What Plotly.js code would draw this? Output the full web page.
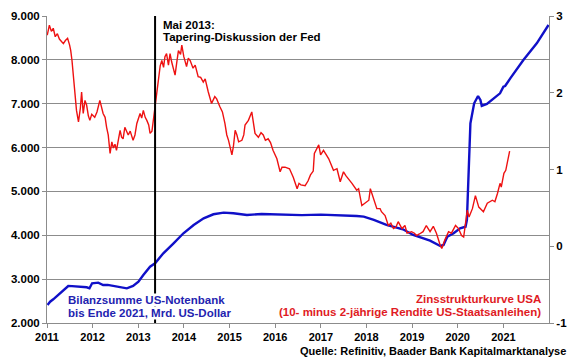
<!DOCTYPE html>
<html>
<head>
<meta charset="utf-8">
<script src="https://cdn.plot.ly/plotly-3.0.1.min.js"></script>
<style>
html,body{margin:0;padding:0;background:#fff;}
#chart{width:580px;height:359px;}
</style>
</head>
<body>
<div id="chart"></div>
<script>
// ---- Data ----
// Bilanzsumme US-Notenbank (Mrd. US-Dollar), left axis
const balanceDates = [
"2011-01-05","2011-01-26","2011-02-20","2011-03-15","2011-04-13","2011-05-15","2011-06-20","2011-07-20","2011-08-25","2011-10-01","2011-11-15","2011-12-07","2011-12-28",
"2012-02-15","2012-03-25","2012-05-01","2012-06-15","2012-08-10","2012-10-01","2012-11-20",
"2013-01-02","2013-02-10","2013-04-05","2013-05-15","2013-07-20","2013-10-10","2013-12-28",
"2014-03-20","2014-06-08","2014-08-25","2014-11-15",
"2015-02-01","2015-05-20","2015-09-15","2015-12-20",
"2016-02-10","2016-08-01","2017-01-01","2017-05-10","2017-10-15","2017-12-10",
"2018-03-01","2018-06-10","2018-10-20","2019-01-10","2019-05-25","2019-08-15","2019-09-10","2019-10-10","2019-11-30",
"2020-01-20","2020-03-04","2020-03-15","2020-03-25","2020-04-01","2020-04-12","2020-05-12","2020-06-12","2020-07-01","2020-07-12","2020-08-22","2020-10-15","2020-12-05",
"2021-01-01","2021-01-15","2021-02-25","2021-04-15","2021-06-10","2021-09-25","2021-12-28"
];
const balanceValues = [
2411,2486,2540,2600,2677,2760,2844,2840,2829,2835,2814,2791,2906,
2920,2867,2870,2844,2814,2791,2844,
2943,3095,3284,3362,3590,3818,4046,
4235,4388,4479,4516,
4502,4463,4486,4479,
4463,4460,4470,4463,4440,4425,
4350,4235,4137,4007,3877,3756,3779,3968,4046,
4160,4196,4349,5030,5870,6553,7010,7176,7085,6948,6994,7124,7237,
7389,7404,7579,7769,7997,8377,8795
];

// Zinsstrukturkurve USA (10- minus 2-jährige Rendite, %), right axis
const spreadDates = [
"2011-01-03","2011-01-20","2011-02-05","2011-02-20","2011-03-08","2011-03-25","2011-04-10","2011-04-27","2011-05-12","2011-05-28","2011-06-15","2011-07-01","2011-07-10","2011-07-20","2011-08-05","2011-08-10","2011-08-25","2011-09-10","2011-09-25","2011-10-05","2011-10-18","2011-11-01","2011-11-14","2011-11-28","2011-12-10","2011-12-25",
"2012-01-18","2012-02-05","2012-02-28","2012-03-25","2012-04-10","2012-04-22","2012-05-05","2012-05-20","2012-06-03","2012-06-15","2012-06-28","2012-07-10","2012-07-25","2012-08-08","2012-08-20","2012-09-01","2012-09-15","2012-10-12","2012-10-28","2012-11-20","2012-12-05","2012-12-20",
"2013-01-15","2013-01-28","2013-02-10","2013-02-25","2013-03-10","2013-03-25","2013-04-05","2013-04-20","2013-04-28","2013-05-15","2013-05-22","2013-06-10","2013-06-25","2013-07-08","2013-07-22","2013-08-02","2013-08-15","2013-08-30","2013-09-12","2013-09-25","2013-10-10","2013-10-22","2013-11-05","2013-11-18","2013-12-05","2013-12-15","2013-12-31",
"2014-01-22","2014-02-05","2014-02-20","2014-03-15","2014-04-01","2014-04-25","2014-05-15","2014-06-05","2014-06-20","2014-07-15","2014-08-10","2014-09-05","2014-09-20","2014-10-15","2014-11-05","2014-11-25","2014-12-10","2014-12-24",
"2015-01-20","2015-02-01","2015-02-15","2015-03-01","2015-03-15","2015-04-10","2015-04-25","2015-05-05","2015-06-01","2015-06-28","2015-07-10","2015-07-24","2015-08-20","2015-09-10","2015-09-28","2015-10-15","2015-11-06","2015-11-25","2015-12-15","2015-12-28",
"2016-01-15","2016-02-10","2016-02-25","2016-03-20","2016-04-10","2016-04-25","2016-05-25","2016-06-25","2016-07-10","2016-07-25","2016-08-28","2016-09-20","2016-10-10","2016-11-01","2016-11-10","2016-12-01","2016-12-15","2016-12-30",
"2017-01-22","2017-02-10","2017-03-05","2017-04-12","2017-05-10","2017-06-05","2017-07-01","2017-07-20","2017-08-10","2017-09-07","2017-10-15","2017-10-30","2017-11-25","2017-12-20",
"2018-01-20","2018-02-01","2018-02-15","2018-03-01","2018-03-25","2018-04-20","2018-05-01","2018-05-30","2018-06-25","2018-07-15","2018-08-05","2018-08-25","2018-09-12","2018-10-12","2018-11-05","2018-11-22","2018-12-28",
"2019-01-20","2019-02-05","2019-03-01","2019-03-30","2019-04-25","2019-05-25","2019-06-20","2019-07-15","2019-08-15","2019-08-27","2019-09-20","2019-10-20","2019-11-12","2019-12-15",
"2020-01-08","2020-02-01","2020-02-18","2020-03-18","2020-04-01","2020-04-28","2020-05-22","2020-06-18","2020-07-25","2020-08-25","2020-10-05","2020-10-25","2020-11-15","2020-12-05","2020-12-15",
"2021-01-05","2021-01-20","2021-02-03","2021-02-20"
];
const spreadValues = [
2.75,2.88,2.80,2.84,2.73,2.77,2.70,2.66,2.64,2.68,2.71,2.62,2.55,2.42,2.10,1.99,1.77,1.62,1.80,2.01,1.73,1.90,1.84,1.70,1.64,1.72,
1.68,1.75,1.90,1.73,1.68,1.55,1.45,1.21,1.36,1.28,1.33,1.25,1.40,1.51,1.42,1.40,1.55,1.45,1.50,1.38,1.45,1.60,
1.73,1.67,1.77,1.68,1.64,1.58,1.47,1.50,1.60,1.82,1.90,2.16,2.35,2.42,2.33,2.47,2.51,2.36,2.51,2.40,2.30,2.23,2.40,2.55,2.50,2.62,2.47,
2.34,2.45,2.42,2.32,2.36,2.21,2.20,2.14,2.18,2.01,1.86,1.95,1.92,1.82,1.75,1.60,1.45,1.38,
1.19,1.30,1.51,1.45,1.36,1.38,1.45,1.58,1.64,1.75,1.62,1.47,1.42,1.48,1.45,1.38,1.40,1.35,1.25,1.21,
1.14,0.97,1.03,1.03,1.02,1.01,0.90,0.75,0.82,0.80,0.79,0.85,0.93,0.98,1.21,1.27,1.32,1.19,
1.25,1.20,1.14,0.99,1.01,0.84,0.97,0.92,0.88,0.82,0.73,0.75,0.53,0.56,
0.60,0.75,0.68,0.60,0.49,0.49,0.45,0.40,0.27,0.30,0.23,0.25,0.32,0.23,0.27,0.17,0.19,
0.17,0.14,0.16,0.19,0.27,0.19,0.26,0.17,0.01,-0.03,0.08,0.19,0.17,0.27,
0.23,0.14,0.12,0.47,0.38,0.49,0.66,0.51,0.45,0.56,0.60,0.58,0.69,0.82,0.77,
0.95,0.99,1.12,1.24
];

// Tick labels
const xTickYears = ["2011","2012","2013","2014","2015","2016","2017","2018","2019","2020","2021"];
const leftTickValues = [2000,3000,4000,5000,6000,7000,8000,9000];
const leftTickLabels = ["2.000","3.000","4.000","5.000","6.000","7.000","8.000","9.000"];
const rightTickValues = [-1,0,1,2,3];
const rightTickLabels = ["-1","0","1","2","3"];

// Texts
const eventDate = "2013-05-15";
const eventLabel = ["Mai 2013:", "Tapering-Diskussion der Fed"];
const blueLabel = ["Bilanzsumme US-Notenbank", "bis Ende 2021, Mrd. US-Dollar"];
const redLabel = ["Zinsstrukturkurve USA", "(10- minus 2-jährige Rendite US-Staatsanleihen)"];
const sourceLabel = "Quelle: Refinitiv, Baader Bank Kapitalmarktanalyse";

// ---- Styles ----
const FONT = "Liberation Sans, Arial, sans-serif";
const BLUE = "#1010c8";
const BLUE_TXT = "#2323b0";
const RED = "#ee1111";
const RED_TXT = "#e01b24";
const GRID = "#8c8c8c";

const traces = [
  {x: balanceDates, y: balanceValues, type: "scatter", mode: "lines",
   line: {color: BLUE, width: 2.4}, yaxis: "y", hoverinfo: "skip"},
  {x: spreadDates, y: spreadValues, type: "scatter", mode: "lines",
   line: {color: RED, width: 1.4}, yaxis: "y2", hoverinfo: "skip"}
];

const tf = (size) => ({family: FONT, size: size, color: "#000", weight: "bold"});

function ann(text, x, y, xanchor, color, size) {
  return {text: text, xref: "paper", yref: "paper", x: x, y: y,
    xanchor: xanchor, yanchor: "middle", showarrow: false,
    font: {family: FONT, size: size, color: color, weight: "bold"},
    bgcolor: "#ffffff", borderpad: 0};
}

const W = 580, H = 359, L = 47, R = 31, T = 16, B = 36;
const pw = W - L - R, ph = H - T - B;
const px = (v) => (v - L) / pw;
const py = (v) => (H - B - v) / ph;

const layout = {
  width: W, height: H,
  margin: {l: L, r: R, t: T, b: B, pad: 0},
  paper_bgcolor: "#ffffff", plot_bgcolor: "#ffffff",
  showlegend: false,
  xaxis: {
    type: "date", range: ["2011-01-01", "2022-01-01"],
    tickvals: xTickYears.map(y => y + "-01-01"), ticktext: xTickYears,
    showgrid: false, showline: true, linecolor: GRID, linewidth: 1,
    ticks: "outside", ticklen: 4, tickcolor: GRID,
    tickfont: tf(11), zeroline: false, fixedrange: true
  },
  yaxis: {
    range: [2000, 9000], tickvals: leftTickValues, ticktext: leftTickLabels,
    showgrid: true, gridcolor: GRID, gridwidth: 1,
    showline: true, linecolor: GRID, linewidth: 1,
    ticks: "outside", ticklen: 4, tickcolor: GRID,
    tickfont: tf(11.5), zeroline: false, fixedrange: true
  },
  yaxis2: {
    range: [-1, 3], tickvals: rightTickValues, ticktext: rightTickLabels,
    overlaying: "y", side: "right", showgrid: false,
    showline: true, linecolor: GRID, linewidth: 1,
    ticks: "outside", ticklen: 4, tickcolor: GRID,
    tickfont: tf(11.5), zeroline: false, fixedrange: true
  },
  shapes: [
    {type: "line", xref: "x", yref: "paper", x0: eventDate, x1: eventDate, y0: 0, y1: 1,
     line: {color: "#000000", width: 2}, layer: "above"}
  ],
  annotations: [
    ann(eventLabel[0], px(162), py(25), "left", "#000000", 11.5),
    ann(eventLabel[1], px(162), py(37), "left", "#000000", 11.5),
    ann(blueLabel[0], px(67), py(300), "left", BLUE_TXT, 11.5),
    ann(blueLabel[1], px(67), py(313), "left", BLUE_TXT, 11.5),
    ann(redLabel[0], px(542), py(299), "right", RED_TXT, 11.5),
    ann(redLabel[1], px(542), py(312), "right", RED_TXT, 11.5),
    {text: sourceLabel, xref: "paper", yref: "paper", x: px(568), y: py(351),
     xanchor: "right", yanchor: "middle", showarrow: false,
     font: {family: FONT, size: 11, color: "#000", weight: "bold"}}
  ]
};

Plotly.newPlot("chart", traces, layout, {staticPlot: true, displayModeBar: false});
</script>
</body>
</html>
